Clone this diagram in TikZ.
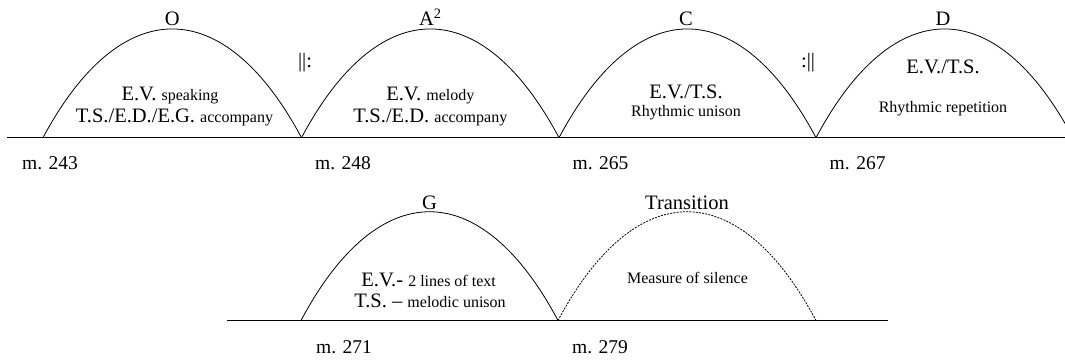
\documentclass[tikz,border=0pt]{standalone}
\usepackage{fontspec}
\setmainfont{Liberation Serif}
\newcommand\smtxt{\fontsize{16}{19}\selectfont}
\tikzset{
  baseline/.style={line width=0.8pt},
  arcline/.style={line width=0.8pt},
  silentarc/.style={line width=0.8pt, dash pattern=on 2pt off 1.2pt},
  big/.style={font=\fontsize{20.5}{24}\selectfont, inner sep=0pt, anchor=base},
  small/.style={font=\smtxt, inner sep=0pt, anchor=base},
  mlabel/.style={font=\fontsize{19.5}{23}\selectfont, inner sep=0pt, anchor=base west},
}
\begin{document}
\begin{tikzpicture}[x=1pt,y=-1pt]
\useasboundingbox (0,0) rectangle (1065,362);
% row 1
\coordinate (l0) at (7,137.7);
\coordinate (l1) at (1080,137.7);
\coordinate (a0) at (43,137.7);
\coordinate (a1) at (301.5,137.7);
\coordinate (a2) at (559,137.7);
\coordinate (a3) at (816,137.7);
\coordinate (a4) at (1073,137.7);
\draw[baseline] (l0) -- (l1);
\draw[arcline] (a0) .. controls +(77.5,-145) and +(-77.5,-145) .. (a1);
\draw[arcline] (a1) .. controls +(77.2,-145) and +(-77.2,-145) .. (a2);
\draw[arcline] (a2) .. controls +(77.2,-145) and +(-77.2,-145) .. (a3);
\draw[arcline] (a3) .. controls +(77.2,-145) and +(-77.2,-145) .. (a4);
% section labels
\node[big] (nO) at (172.3,25.8) {O};
\node[big] (nA) at (430.3,25.8) {A\textsuperscript{2}};
\node[big] (nC) at (686,25.8) {C};
\node[big] (nD) at (943,25.8) {D};
\node[big] (rep1) at (305,67) {||:};
\node[big] (rep2) at (808,67) {:||};
% arc texts
\node[big] (t1a) at (170,100) {E.V. {\smtxt speaking}};
\node[big] (t1b) at (174.5,122) {T.S./E.D./E.G. {\smtxt accompany}};
\node[big] (t2a) at (430.3,100) {E.V. {\smtxt melody}};
\node[big] (t2b) at (430.3,122) {T.S./E.D. {\smtxt accompany}};
\node[big] (t3a) at (686,98) {E.V./T.S.};
\node[small] (t3b) at (686,116) {Rhythmic unison};
\node[big] (t4a) at (943,73) {E.V./T.S.};
\node[small] (t4b) at (943,112) {Rhythmic repetition};
% measure labels
\node[mlabel] (m243) at (22,169) {m. 243};
\node[mlabel] (m248) at (315,169) {m. 248};
\node[mlabel] (m265) at (572.5,169) {m. 265};
\node[mlabel] (m267) at (829.5,169) {m. 267};
% row 2
\coordinate (k0) at (227,320.5);
\coordinate (k1) at (888,320.5);
\coordinate (b0) at (301,320.5);
\coordinate (b1) at (558,320.5);
\coordinate (b2) at (816,320.5);
\draw[baseline] (k0) -- (k1);
\draw[arcline] (b0) .. controls +(77.1,-145) and +(-77.1,-145) .. (b1);
\draw[silentarc] (b1) .. controls +(77.4,-145) and +(-77.4,-145) .. (b2);
\node[big] (nG) at (429.5,209) {G};
\node[big] (nT) at (687,209) {Transition};
\node[big] (g1) at (428.6,286) {E.V.- {\smtxt 2 lines of text}};
\node[big] (g2) at (430,307.5) {T.S. – {\smtxt melodic unison}};
\node[small] (s1) at (687.5,283.6) {Measure of silence};
\node[mlabel] (m271) at (316,353) {m. 271};
\node[mlabel] (m279) at (572,353) {m. 279};
\end{tikzpicture}
\end{document}
